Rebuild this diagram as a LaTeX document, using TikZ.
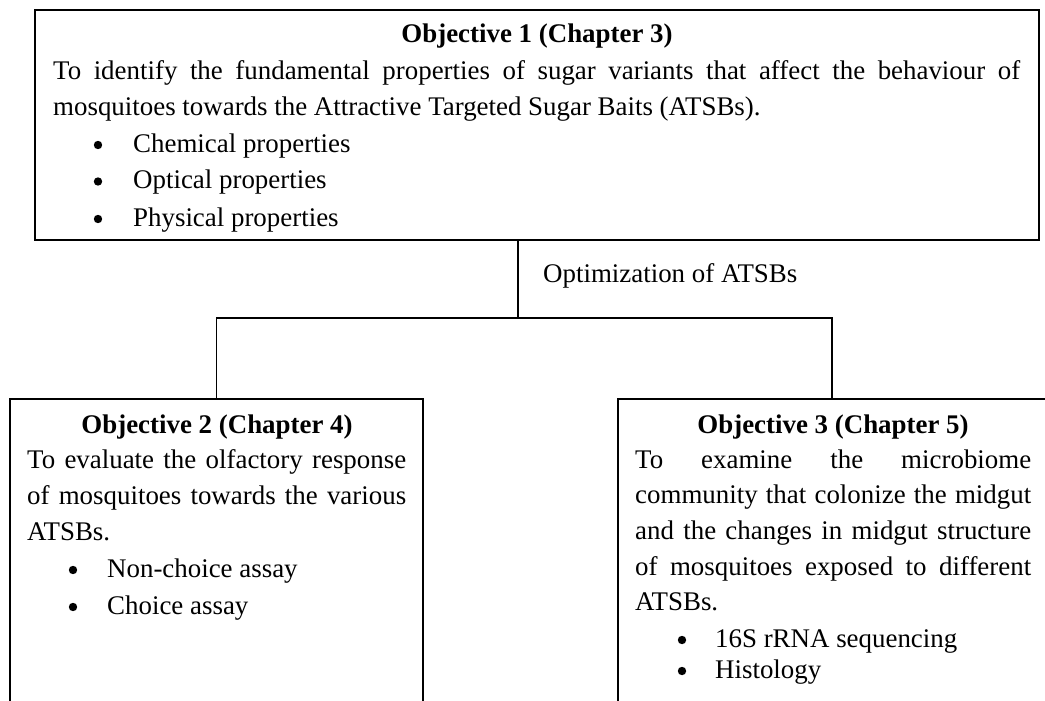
\documentclass[tikz,border=0pt]{standalone}
\usepackage{fontspec}
\setmainfont{Liberation Serif}
\newcommand\myfs{\fontsize{26.9}{36}\selectfont}
\tikzset{
  objbox/.style={draw, rectangle, line width=1.6pt, inner sep=0pt},
  conn/.style={line width=1.4pt},
  txt/.style={anchor=base west, inner sep=0pt, font=\myfs},
  ttl/.style={anchor=base, inner sep=0pt, font=\myfs\bfseries},
  bul/.style={circle, fill=black, inner sep=0pt, minimum size=8.4pt, yshift=7pt},
}
\begin{document}
\begin{tikzpicture}[x=1pt, y=-1pt]
\useasboundingbox (0,0) rectangle (1045,701);
\clip (0,0) rectangle (1045,701);
% boxes
\node[objbox, minimum width=1004pt, minimum height=230pt] (obj1) at (537,125) {};
\node[objbox, minimum width=413pt, minimum height=330pt] (obj2) at (216.5,564) {};
\node[objbox, minimum width=428pt, minimum height=330pt] (obj3) at (832,564) {};
% connectors
\coordinate (jn) at (518,318);
\coordinate (hl) at (216.5,318);
\coordinate (hr) at (832,318);
\draw[conn] (obj1.south -| jn) -- (jn);
\draw[conn] (obj2.north) -- (hl) -- (hr) -- (obj3.north);
\node[txt] (opt) at (543,282) {Optimization of ATSBs};
% objective 1
\node[ttl] (t1) at (537,43) {Objective 1 (Chapter 3)};
\node[txt] (a1) at (53,79.5) {\makebox[967pt][s]{To identify the fundamental properties of sugar variants that affect the behaviour of}};
\node[txt] (a2) at (53,115) {mosquitoes towards the Attractive Targeted Sugar Baits (ATSBs).};
\node[bul] (b11) at (98,152) {};
\node[txt] (c11) at (133,152) {Chemical properties};
\node[bul] (b12) at (98,188.5) {};
\node[txt] (c12) at (133,188.5) {Optical properties};
\node[bul] (b13) at (98,226) {};
\node[txt] (c13) at (133,226) {Physical properties};
% objective 2
\node[ttl] (t2) at (217,433) {Objective 2 (Chapter 4)};
\node[txt] (d1) at (27,468) {\makebox[379pt][s]{To evaluate the olfactory response}};
\node[txt] (d2) at (27,504) {\makebox[379pt][s]{of mosquitoes towards the various}};
\node[txt] (d3) at (27,540) {ATSBs.};
\node[bul] (b21) at (73,577) {};
\node[txt] (e21) at (107,577) {Non-choice assay};
\node[bul] (b22) at (73,614) {};
\node[txt] (e22) at (107,614) {Choice assay};
% objective 3
\node[ttl] (t3) at (833,433) {Objective 3 (Chapter 5)};
\node[txt] (f1) at (635,468) {\makebox[396pt][s]{To examine the microbiome}};
\node[txt] (f2) at (635,503.5) {\makebox[396pt][s]{community that colonize the midgut}};
\node[txt] (f3) at (635,539.5) {\makebox[396pt][s]{and the changes in midgut structure}};
\node[txt] (f4) at (635,575) {\makebox[396pt][s]{of mosquitoes exposed to different}};
\node[txt] (f5) at (635,610) {ATSBs.};
\node[bul] (b31) at (682,647) {};
\node[txt] (g31) at (715,647) {16S rRNA sequencing};
\node[bul] (b32) at (682,678) {};
\node[txt] (g32) at (715,678) {Histology};
\end{tikzpicture}
\end{document}
